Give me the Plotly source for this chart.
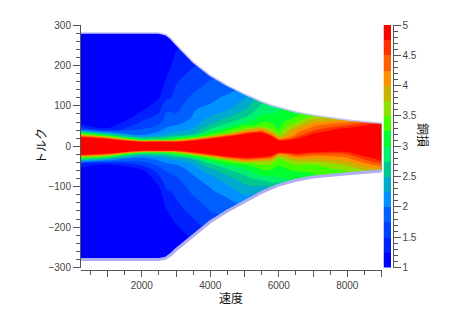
import plotly.graph_objects as go

# Speed / torque map with discrete bands. Rows are fractions of the torque envelope.
speed = [225, 1000, 2000, 2500, 2700, 2850, 3000, 3500, 4000, 4500, 5000, 5500, 5800, 6000, 6500, 7000, 8000, 9000]
torque_max = [280, 280, 280, 280, 276, 266, 252, 208, 175, 150, 129, 110, 101, 96, 85, 77, 65, 57]
torque_min = [-280, -280, -280, -280, -277, -268, -256, -222, -187, -160, -137, -114, -103, -96, -84, -76, -68, -61]

fractions = [-1, -0.8, -0.6, -0.45, -0.32, -0.22, -0.15, -0.1, -0.06, -0.03, 0,
             0.03, 0.06, 0.1, 0.15, 0.22, 0.32, 0.45, 0.6, 0.8, 1]

# one list per speed, lowest row first
z_values = [
    [1.0, 1.0, 1.0, 1.0, 1.0, 1.0, 1.5, 3.4, 5.5, 5.5, 5.5, 5.5, 5.5, 3.9, 1.7, 1.0, 1.0, 1.0, 1.0, 1.0, 1.0],  # 225
    [1.0, 1.0, 1.0, 1.0, 1.0, 1.0, 1.3, 2.8, 5.0, 5.5, 5.5, 5.5, 5.0, 2.8, 1.3, 1.0, 1.0, 1.0, 1.0, 1.0, 1.0],  # 1000
    [1.0, 1.0, 1.0, 1.0, 1.0, 1.15, 1.65, 2.0, 2.9, 5.5, 5.5, 5.5, 2.9, 2.0, 1.75, 1.5, 1.22, 1.05, 1.0, 1.0, 1.0],  # 2000
    [1.0, 1.0, 1.0, 1.1, 1.3, 1.6, 1.85, 2.2, 2.95, 5.5, 5.5, 5.5, 2.95, 2.2, 1.9, 1.65, 1.45, 1.2, 1.05, 1.0, 1.0],  # 2500
    [1.0, 1.05, 1.2, 1.38, 1.6, 1.75, 2.0, 2.3, 3.0, 5.5, 5.5, 5.5, 3.0, 2.3, 2.05, 1.85, 1.72, 1.42, 1.25, 1.1, 1.0],  # 2700
    [1.0, 1.1, 1.3, 1.45, 1.65, 1.8, 2.05, 2.45, 3.3, 5.5, 5.5, 5.5, 3.3, 2.45, 2.1, 1.9, 1.75, 1.5, 1.38, 1.2, 1.1],  # 2850
    [1.0, 1.2, 1.42, 1.55, 1.7, 1.85, 2.1, 2.6, 3.6, 5.5, 5.5, 5.5, 3.6, 2.6, 2.2, 1.95, 1.75, 1.6, 1.5, 1.35, 1.2],  # 3000
    [1.3, 1.5, 1.7, 1.85, 2.0, 2.2, 2.5, 3.4, 5.0, 5.5, 5.5, 5.5, 5.0, 3.4, 2.5, 2.25, 2.05, 1.95, 1.78, 1.6, 1.45],  # 3500
    [1.65, 1.8, 1.95, 2.1, 2.4, 2.8, 3.5, 4.9, 5.5, 5.5, 5.5, 5.5, 5.5, 4.9, 3.5, 2.85, 2.45, 2.2, 2.0, 1.85, 1.7],  # 4000
    [1.8, 2.0, 2.25, 2.5, 2.85, 3.5, 4.9, 5.5, 5.5, 5.5, 5.5, 5.5, 5.5, 5.5, 4.9, 3.5, 2.95, 2.55, 2.25, 2.05, 1.85],  # 4500
    [2.1, 2.35, 2.6, 2.9, 3.3, 4.6, 5.5, 5.5, 5.5, 5.5, 5.5, 5.5, 5.5, 5.5, 5.5, 4.9, 3.6, 3.0, 2.65, 2.35, 2.15],  # 5000
    [2.25, 2.6, 3.1, 3.35, 3.8, 4.9, 5.5, 5.5, 5.5, 5.5, 5.5, 5.5, 5.5, 5.5, 5.5, 5.5, 4.6, 3.4, 3.15, 2.9, 2.7],  # 5500
    [2.5, 2.9, 3.2, 3.4, 3.9, 4.8, 5.5, 5.5, 5.5, 5.5, 5.5, 5.5, 5.5, 5.5, 5.5, 4.9, 3.9, 3.4, 3.2, 3.0, 2.85],  # 5800
    [2.6, 3.0, 3.15, 3.3, 3.5, 4.0, 5.0, 5.5, 5.5, 5.5, 5.5, 5.5, 5.5, 5.5, 4.7, 3.9, 3.5, 3.25, 3.15, 3.05, 2.95],  # 6000
    [3.0, 3.2, 3.4, 3.7, 4.2, 4.7, 5.5, 5.5, 5.5, 5.5, 5.5, 5.5, 5.5, 5.5, 5.5, 4.7, 4.3, 4.1, 3.7, 3.3, 3.15],  # 6500
    [3.2, 3.3, 3.5, 3.9, 4.2, 4.6, 5.0, 5.5, 5.5, 5.5, 5.5, 5.5, 5.5, 5.5, 5.5, 5.5, 5.0, 4.6, 4.3, 3.9, 3.5],  # 7000
    [3.4, 3.6, 3.9, 4.2, 4.4, 4.7, 5.2, 5.5, 5.5, 5.5, 5.5, 5.5, 5.5, 5.5, 5.5, 5.5, 5.5, 5.5, 5.0, 4.5, 4.0],  # 8000
    [3.9, 4.3, 4.75, 5.0, 5.5, 5.5, 5.5, 5.5, 5.5, 5.5, 5.5, 5.5, 5.5, 5.5, 5.5, 5.5, 5.5, 5.5, 5.5, 5.2, 4.8],  # 9000
]

band_edges = [1, 1.25, 1.5, 1.75, 2, 2.25, 2.5, 2.75, 3, 3.25, 3.5, 3.75, 4, 4.25, 4.5, 4.75, 5]
band_colors = ['#0000ff', '#0020ff', '#0040ff', '#0060ff', '#0090ff', '#00aacc', '#00c890', '#00f070',
               '#00ff30', '#40ff00', '#90e000', '#c8b400', '#ff9000', '#ff6000', '#ff3000', '#ff0000']
band_mids = [1.125, 1.375, 1.625, 1.875, 2.125, 2.375, 2.625, 2.875, 3.125, 3.375, 3.625, 3.875, 4.125, 4.375, 4.625, 4.875]
tick_vals = [1, 1.5, 2, 2.5, 3, 3.5, 4, 4.5, 5]
tick_text = ['1', '1.5', '2', '2.5', '3', '3.5', '4', '4.5', '5']

colorscale = []
for i, c in enumerate(band_colors):
    colorscale.append([i / len(band_colors), c])
    colorscale.append([(i + 1) / len(band_colors), c])

# torque coordinate of each grid node: rows scale with the envelope at that speed
x_grid = [[s for s in speed] for _ in fractions]
y_grid = [[(f * tmax if f > 0 else -f * tmin) for tmax, tmin in zip(torque_max, torque_min)] for f in fractions]
z_grid = [[col[j] for col in z_values] for j in range(len(fractions))]

fig = go.Figure()

hidden = dict(showgrid=False, showticklabels='none', showline=False, startline=False, endline=False,
              minorgridcount=0, smoothing=0)
fig.add_trace(go.Carpet(a=speed, b=fractions, x=x_grid, y=y_grid, carpet='map', aaxis=hidden, baxis=hidden))
fig.add_trace(go.Contourcarpet(
    a=speed, b=fractions, z=z_grid, carpet='map',
    autocontour=False,
    contours=dict(start=1, end=5, size=0.25, coloring='fill', showlines=False),
    line=dict(width=0),
    colorscale=colorscale, zmin=1, zmax=5, showscale=False,
))

# pale rim along the envelope
fig.add_trace(go.Scatter(x=speed, y=torque_max, mode='lines', line=dict(color='#c4c4f6', width=1.5),
                         showlegend=False, hoverinfo='skip'))
fig.add_trace(go.Scatter(x=speed, y=torque_min, mode='lines', line=dict(color='#aeaef0', width=3),
                         showlegend=False, hoverinfo='skip'))

# colour bar drawn as its own small heatmap so it can carry minor ticks
fig.add_trace(go.Heatmap(
    x=[0, 1], y=band_edges, z=[[m] for m in band_mids],
    colorscale=colorscale, zmin=1, zmax=5, showscale=False, xaxis='x2', yaxis='y2', hoverinfo='skip',
))

W, H = 458, 324
axis_col = '#555555'
tick_font = dict(family='Liberation Sans, Arial', size=10, color='#444444')
title_font = dict(family='Noto Sans CJK JP', size=12, color='#111111')
plot_bottom = (H - 267.5) / H
plot_top = (H - 25) / H

fig.update_layout(
    width=W, height=H,
    margin=dict(l=0, r=0, t=0, b=0, autoexpand=False),
    paper_bgcolor='white', plot_bgcolor='white',
    showlegend=False,
    xaxis=dict(domain=[81 / W, 381.5 / W], range=[225, 9000], anchor='free', position=(H - 270) / H,
               tickvals=[1000, 2000, 3000, 4000, 5000, 6000, 7000, 8000, 9000],
               ticktext=['', '2000', '', '4000', '', '6000', '', '8000', ''],
               ticks='outside', ticklen=6, tickcolor=axis_col, tickangle=0,
               tickfont=tick_font, showgrid=False, zeroline=False, showline=True, linecolor=axis_col, linewidth=1,
               minor=dict(tickvals=[500, 1500, 2500, 3500, 4500, 5500, 6500, 7500, 8500],
                          ticks='outside', ticklen=4, tickcolor=axis_col)),
    yaxis=dict(domain=[plot_bottom, plot_top], range=[-300, 300], anchor='free', position=80 / W,
               tickvals=[-300, -200, -100, 0, 100, 200, 300],
               ticktext=['\u2212300', '\u2212200', '\u2212100', '0', '100', '200', '300'],
               ticks='outside', ticklen=7, tickcolor=axis_col, tickfont=tick_font,
               showgrid=False, zeroline=False, showline=True, linecolor=axis_col, linewidth=1,
               minor=dict(dtick=20, tick0=0, ticks='outside', ticklen=4, tickcolor=axis_col)),
    xaxis2=dict(domain=[383.5 / W, 391 / W], range=[0, 1], anchor='y2', visible=False),
    yaxis2=dict(domain=[plot_bottom, plot_top], range=[1, 5], anchor='free', side='right', position=392.5 / W,
                tickvals=tick_vals, ticktext=tick_text, ticks='outside', ticklen=7, tickcolor=axis_col,
                tickfont=tick_font, showgrid=False, zeroline=False, showline=True, linecolor=axis_col, linewidth=1,
                minor=dict(dtick=0.1, tick0=1, ticks='outside', ticklen=4, tickcolor=axis_col)),
    annotations=[
        dict(text='速度', x=231 / W, y=(H - 297) / H, xref='paper', yref='paper', showarrow=False, font=title_font,
             xanchor='center', yanchor='middle'),
        dict(text='トルク', x=40 / W, y=(H - 146) / H, xref='paper', yref='paper', showarrow=False,
             textangle=-90, font=title_font, xanchor='center', yanchor='middle'),
        dict(text='銅損', x=424 / W, y=(H - 135) / H, xref='paper', yref='paper', showarrow=False,
             textangle=90, font=title_font, xanchor='center', yanchor='middle'),
    ],
)

fig.write_html("out.html", post_script="document.body.style.margin='0';",
               config=dict(displayModeBar=False))
